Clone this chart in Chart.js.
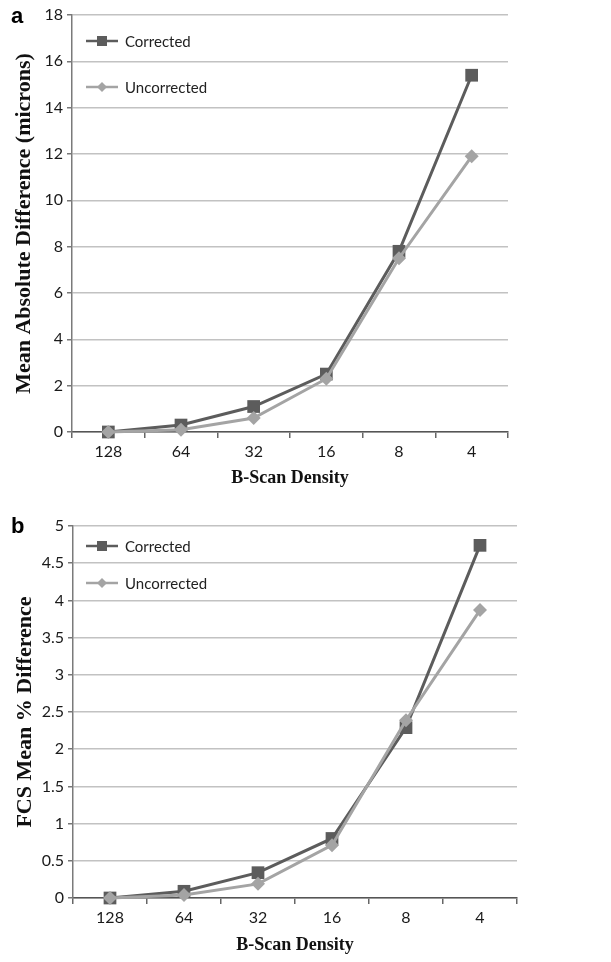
<!DOCTYPE html>
<html>
<head>
<meta charset="utf-8">
<script src="https://cdn.jsdelivr.net/npm/chart.js@4.4.1/dist/chart.umd.min.js"></script>
<style>
  html, body { margin: 0; padding: 0; background: #fff; }
  #wrap { position: relative; width: 611px; height: 962px; overflow: hidden; }
  .panel { position: absolute; left: 0; width: 611px; }
  .letter { position: absolute; left: 11px; font: bold 22px "Liberation Sans", Arial, sans-serif; color: #000; }
</style>
</head>
<body>
<div id="wrap">
  <div class="panel" style="top:0;height:495px;"><canvas id="ca" width="611" height="495"></canvas></div>
  <div class="panel" style="top:495px;height:467px;"><canvas id="cb" width="611" height="467"></canvas></div>
  <div class="letter" style="top:3px;">a</div>
  <div class="letter" style="top:513px;">b</div>
</div>
<script>
// ---- data ----
const categories = ["128", "64", "32", "16", "8", "4"];
const seriesNames = ["Corrected", "Uncorrected"];
const madCorrected   = [0, 0.3, 1.1, 2.5, 7.8, 15.4];
const madUncorrected = [0, 0.1, 0.6, 2.3, 7.5, 11.9];
const fcsCorrected   = [0, 0.09, 0.34, 0.80, 2.29, 4.74];
const fcsUncorrected = [0, 0.04, 0.19, 0.71, 2.39, 3.87];
const titleA = "Mean Absolute Difference (microns)";
const titleB = "FCS Mean % Difference";
const xTitle = "B-Scan Density";

const darkCol = "#5c5c5c";
const lightCol = "#a4a4a4";

const insideLegend = {
  id: "insideLegend",
  afterDraw(chart, args, opts) {
    const ctx = chart.ctx;
    ctx.save();
    chart.data.datasets.forEach((ds, i) => {
      const y = chart.chartArea.top + opts.rows[i];
      ctx.strokeStyle = ds.borderColor;
      ctx.lineWidth = 2.5;
      ctx.beginPath();
      ctx.moveTo(86, y); ctx.lineTo(118, y); ctx.stroke();
      ctx.fillStyle = ds.pointBackgroundColor;
      ctx.beginPath();
      if (ds.pointStyle === "rect") { ctx.rect(97, y - 5, 10, 10); }
      else { ctx.moveTo(102, y - 5); ctx.lineTo(107, y); ctx.lineTo(102, y + 5); ctx.lineTo(97, y); ctx.closePath(); }
      ctx.fill();
      ctx.fillStyle = "#222";
      ctx.font = "15px Lato, 'Open Sans', sans-serif";
      ctx.textBaseline = "middle";
      ctx.textAlign = "left";
      ctx.fillText(ds.label, 125, y + 1);
    });
    ctx.restore();
  }
};

function makeDatasets(c, u) {
  return [
    { label: seriesNames[0], data: c, borderColor: darkCol, backgroundColor: darkCol,
      pointBackgroundColor: darkCol, pointBorderColor: darkCol, pointStyle: "rect",
      pointRadius: 9, pointBorderWidth: 0, borderWidth: 3, tension: 0, clip: false, order: 1 },
    { label: seriesNames[1], data: u, borderColor: lightCol, backgroundColor: lightCol,
      pointBackgroundColor: lightCol, pointBorderColor: lightCol, pointStyle: "rectRot",
      pointRadius: 7, pointBorderWidth: 0, borderWidth: 3, tension: 0, clip: false, order: 0 }
  ];
}

function makeChart(id, c, u, yMax, yStep, yTitle, pad, xH, legendRows) {
  return new Chart(document.getElementById(id), {
    type: "line",
    data: { labels: categories, datasets: makeDatasets(c, u) },
    options: {
      responsive: false, animation: false,
      layout: { padding: pad },
      plugins: { legend: { display: false }, tooltip: { enabled: false }, insideLegend: { rows: legendRows } },
      scales: {
        x: {
          type: "category", offset: true,
          grid: { offset: true, drawOnChartArea: false, drawTicks: true, tickLength: 6, color: "#666", lineWidth: 1.5 },
          border: { display: true, color: "#555", width: 1.5 },
          ticks: { color: "#1a1a1a", font: { family: "Lato, 'Open Sans', sans-serif", size: 16 }, padding: 4 },
          title: { display: true, text: xTitle, color: "#111",
            font: { family: "'Liberation Serif', 'Times New Roman', serif", size: 18, weight: "bold" },
            padding: { top: 0, bottom: 6 } },
          afterFit(s) { s.height = xH; }
        },
        y: {
          min: 0, max: yMax,
          ticks: { stepSize: yStep, color: "#1a1a1a", font: { family: "Lato, 'Open Sans', sans-serif", size: 16 }, padding: 4,
                   callback: (v) => String(+Number(v).toFixed(2)) },
          grid: { color: "#c2c2c2", lineWidth: 1.5, tickColor: "#777", tickLength: 5 },
          border: { display: true, color: "#7a7a7a", width: 1.5 },
          title: { display: true, text: yTitle, color: "#111",
            font: { family: "'Liberation Serif', 'Times New Roman', serif", size: 22, weight: "bold" },
            padding: { top: 11, bottom: 0 } },
          afterFit(s) { s.width = 72; }
        }
      }
    },
    plugins: [insideLegend]
  });
}

makeChart("ca", madCorrected, madUncorrected, 18, 2, titleA,
  { top: 15, right: 103, bottom: 0, left: 0 }, 63, [26, 72]);
makeChart("cb", fcsCorrected, fcsUncorrected, 5, 0.5, titleB,
  { top: 31, right: 94, bottom: 0, left: 1 }, 64, [20, 57]);
</script>
</body>
</html>
